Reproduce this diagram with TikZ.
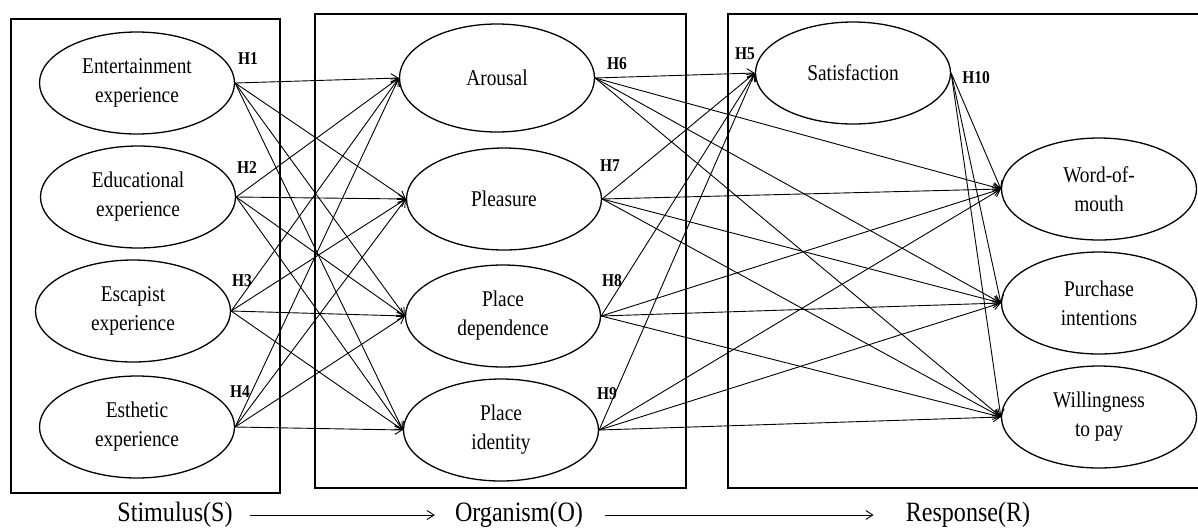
\documentclass[tikz,border=0pt]{standalone}
\usepackage{fontspec}
\setmainfont{Liberation Serif}[FakeStretch=0.86]
\usetikzlibrary{shapes.geometric}
\usetikzlibrary{arrows.meta}

\begin{document}
\begin{tikzpicture}[
    x=1pt, y=-1pt,
    construct/.style={ellipse, draw=black, line width=1.3pt, minimum width=195pt, minimum height=102pt, inner sep=0pt, align=center, font=\fontsize{22.5}{29}\selectfont},
    stage/.style={draw=black, line width=1.6pt},
    hyp/.style={font=\fontsize{18}{20}\selectfont\bfseries, inner sep=0pt},
    path/.style={line width=0.9pt, -{Straight Barb[length=7pt, width=9pt]}},
    phase/.style={font=\fontsize{28}{32}\selectfont, inner sep=0pt},
    ]
        \useasboundingbox (0,0) rectangle (1198,531);

        % S-O-R frames
        \draw[stage] (11,19) rectangle (280,493);
        \draw[stage] (315,14) rectangle (686,488);
        \draw[stage] (728,14) rectangle (1215,488);

        % stimulus
        \node[construct] (ent) at (137,83) {Entertainment\\experience};
        \node[construct] (edu) at (138,197) {Educational\\experience};
        \node[construct] (esc) at (133,311) {Escapist\\experience};
        \node[construct] (est) at (137,427) {Esthetic\\experience};

        % organism
        \node[construct, minimum height=108pt] (aro) at (497,78) {Arousal};
        \node[construct] (ple) at (504,199) {Pleasure};
        \node[construct] (pdep) at (503,316) {Place\\dependence};
        \node[construct] (pid) at (501,430) {Place\\identity};

        % response
        \node[construct] (sat) at (853,73) {Satisfaction};
        \node[construct] (wom) at (1099,189) {Word-of-\\mouth};
        \node[construct] (pur) at (1099,303) {Purchase\\intentions};
        \node[construct] (wil) at (1099,417) {Willingness\\to pay};

        % hypotheses
        \node[hyp] at (248,59) {H1};
        \node[hyp] at (247,168) {H2};
        \node[hyp] at (242,281) {H3};
        \node[hyp] at (240,392) {H4};
        \node[hyp] at (745,54) {H5};
        \node[hyp] at (617,64) {H6};
        \node[hyp] at (610,166) {H7};
        \node[hyp] at (612,281) {H8};
        \node[hyp] at (607,394) {H9};
        \node[hyp] at (976,78) {H10};

        % stimulus -> organism
        \draw (ent.east) edge[path] (aro.west) edge[path] (ple.west) edge[path] (pdep.west) edge[path] (pid.west);
        \draw (edu.east) edge[path] (aro.west) edge[path] (ple.west) edge[path] (pdep.west) edge[path] (pid.west);
        \draw (esc.east) edge[path] (aro.west) edge[path] (ple.west) edge[path] (pdep.west) edge[path] (pid.west);
        \draw (est.east) edge[path] (aro.west) edge[path] (ple.west) edge[path] (pdep.west) edge[path] (pid.west);

        % organism -> response
        \draw (aro.east) edge[path] (sat.west) edge[path] (wom.west) edge[path] (pur.west) edge[path] (wil.west);
        \draw (ple.east) edge[path] (sat.west) edge[path] (wom.west) edge[path] (pur.west) edge[path] (wil.west);
        \draw (pdep.east) edge[path] (sat.west) edge[path] (wom.west) edge[path] (pur.west) edge[path] (wil.west);
        \draw (pid.east) edge[path] (sat.west) edge[path] (wom.west) edge[path] (pur.west) edge[path] (wil.west);

        % satisfaction -> behaviour
        \draw (sat.east) edge[path] (wom.west) edge[path] (pur.west) edge[path] (wil.west);

        % S -> O -> R
        \node[phase] (stim) at (175,515) {Stimulus(S)};
        \node[phase] (org) at (519,515) {Organism(O)};
        \node[phase] (resp) at (968,515) {Response(R)};
        \draw[path, shorten <=17pt, shorten >=20pt] (stim.east) -- (org.west);
        \draw[path, shorten <=22pt, shorten >=32pt] (org.east) -- (resp.west);
    \end{tikzpicture}
\end{document}
